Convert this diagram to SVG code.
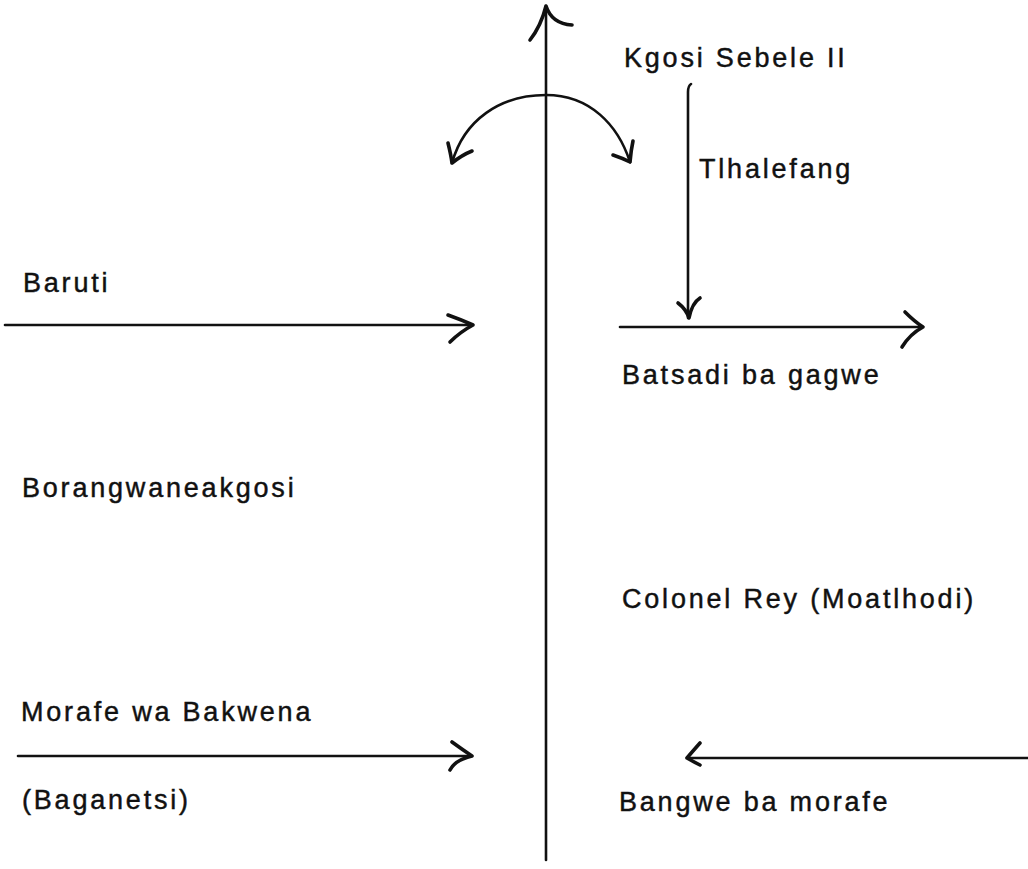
<svg xmlns="http://www.w3.org/2000/svg" width="1028" height="869" viewBox="0 0 1028 869">
<style>
.lbl{font-family:"Liberation Sans",Arial,Helvetica,sans-serif;font-size:27px;letter-spacing:2.8px;fill:#111;stroke:#111;stroke-width:0.45;}
.ln{fill:none;stroke:#111;stroke-width:2.6;stroke-linecap:round;}
.hd{fill:none;stroke:#111;stroke-width:3.6;stroke-linecap:round;stroke-linejoin:round;}
</style>
<rect width="1028" height="869" fill="#fff"/>
<g id="connectors">
  <g id="axis">
    <path class="ln" d="M546,6 L546,860"/>
    <path class="hd" d="M530,40 Q541,26 546,6 Q552,24 572,25"/>
  </g>
  <g id="swing">
    <path class="ln" d="M452,163 C464,120 500,95 546,95 C590,95 618,125 630,162"/>
    <path class="hd" d="M448,143 Q451,155 452,163 Q462,155 472,151"/>
    <path class="hd" d="M613,155 Q622,158 630,162 Q631,150 633,141"/>
  </g>
  <g id="tlhalefang-arrow">
    <path class="ln" d="M691,84 Q688,86 688,92 L688,318"/>
    <path class="hd" d="M678,303 Q686,309 689,318 Q692,303 700,298"/>
  </g>
  <g id="batsadi-arrow">
    <path class="ln" d="M620,327 L922,327"/>
    <path class="hd" d="M905,312 Q915,322 923,327 Q910,334 902,347"/>
  </g>
  <g id="baruti-arrow">
    <path class="ln" d="M5,325 L472,325"/>
    <path class="hd" d="M448,315 Q462,320 473,325 Q460,332 450,342"/>
  </g>
  <g id="morafe-arrow">
    <path class="ln" d="M18,756 L471,756"/>
    <path class="hd" d="M452,742 Q463,750 472,756 Q455,760 450,770"/>
  </g>
  <g id="bangwe-arrow">
    <path class="ln" d="M1028,758 L688,758"/>
    <path class="hd" d="M700,743 Q692,752 687,758 Q694,762 700,765"/>
  </g>
</g>
<g id="kgosi"><text class="lbl" x="624" y="67">Kgosi Sebele II</text></g>
<g id="tlhalefang"><text class="lbl" x="699" y="178">Tlhalefang</text></g>
<g id="baruti"><text class="lbl" x="23" y="292">Baruti</text></g>
<g id="batsadi"><text class="lbl" x="622" y="384">Batsadi ba gagwe</text></g>
<g id="borangwane"><text class="lbl" x="22" y="497">Borangwaneakgosi</text></g>
<g id="colonel"><text class="lbl" x="622" y="608">Colonel Rey (Moatlhodi)</text></g>
<g id="morafe"><text class="lbl" x="21" y="721">Morafe wa Bakwena</text></g>
<g id="baganetsi"><text class="lbl" x="22" y="809">(Baganetsi)</text></g>
<g id="bangwe"><text class="lbl" x="619" y="811">Bangwe ba morafe</text></g>
</svg>
